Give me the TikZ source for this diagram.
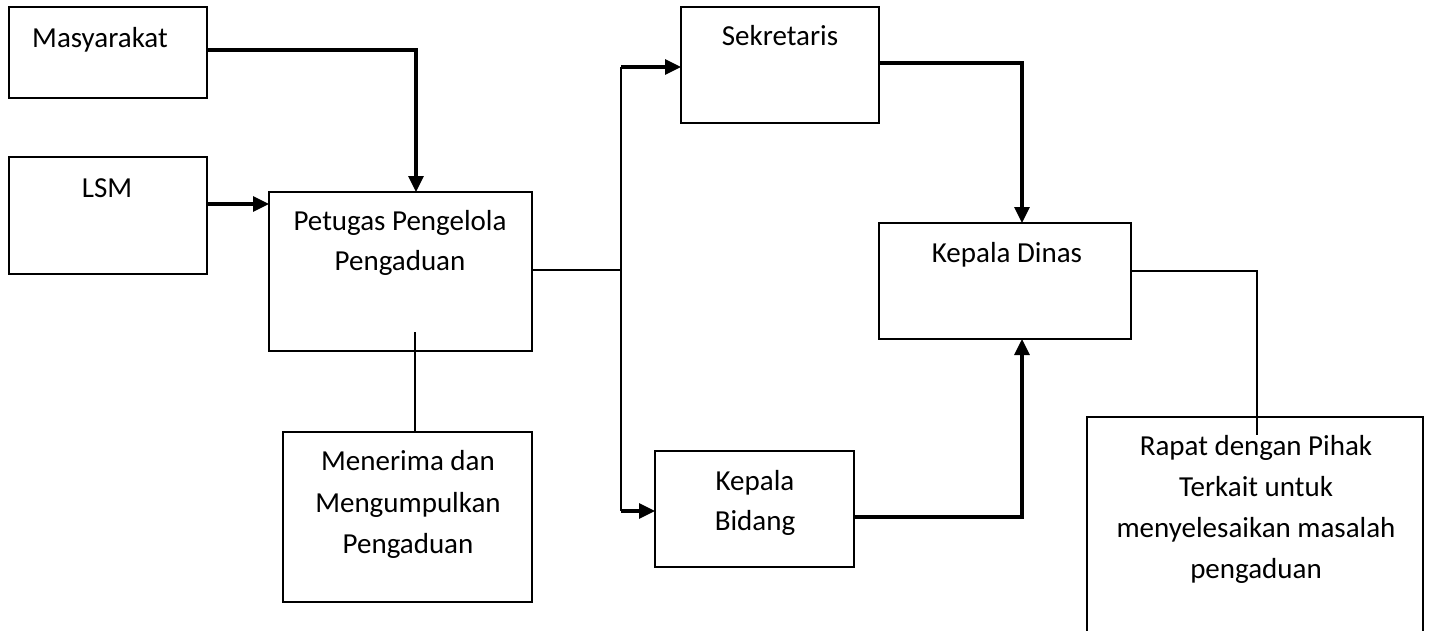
\documentclass[tikz,border=0pt]{standalone}
\usepackage{fontspec}
\setmainfont{Carlito}
\usetikzlibrary{arrows.meta}
\tikzset{
  box/.style={draw=black, line width=2pt, rectangle, inner sep=0pt, outer sep=0pt, anchor=north west},
  txt/.style={inner sep=0pt, outer sep=0pt, anchor=base, font=\fontsize{29pt}{41pt}\selectfont},
  thinline/.style={draw=black, line width=2pt},
  arr/.style={draw=black, line width=3.2pt, -{Triangle[length=16pt,width=15pt]}},
  boldline/.style={draw=black, line width=3.2pt},
}
\begin{document}
\begin{tikzpicture}[x=1pt,y=-1pt]
\clip (0,0) rectangle (1431,630);
\fill[white] (0,0) rectangle (1431,630);
% boxes
\node[box, minimum width=198pt, minimum height=91pt] (masy) at (9,7) {};
\node[box, minimum width=198pt, minimum height=117pt] (lsm) at (9,157) {};
\node[box, minimum width=263pt, minimum height=159pt] (pet) at (269,192) {};
\node[box, minimum width=249pt, minimum height=170pt] (men) at (283,432) {};
\node[box, minimum width=198pt, minimum height=116pt] (sek) at (681,7) {};
\node[box, minimum width=252pt, minimum height=116pt] (kd) at (879,223) {};
\node[box, minimum width=199pt, minimum height=116pt] (kb) at (655,451) {};
\node[box, minimum width=336pt, minimum height=260pt] (rap) at (1087,417) {};
% texts
\node[txt] (tmasy) at (100,47) {Masyarakat};
\node[txt] (tlsm) at (107,197) {LSM};
\node[txt] (tpet1) at (400,230) {Petugas Pengelola};
\node[txt] (tpet2) at (400,270) {Pengaduan};
\node[txt] (tmen1) at (408,470) {Menerima dan};
\node[txt] (tmen2) at (408,512) {Mengumpulkan};
\node[txt] (tmen3) at (408,553) {Pengaduan};
\node[txt] (tsek) at (780,45) {Sekretaris};
\node[txt] (tkd) at (1007,262) {Kepala Dinas};
\node[txt] (tkb1) at (755,490) {Kepala};
\node[txt] (tkb2) at (755,530) {Bidang};
\node[txt] (trap1) at (1256,455) {Rapat dengan Pihak};
\node[txt] (trap2) at (1256,496) {Terkait untuk};
\node[txt] (trap3) at (1256,537) {menyelesaikan masalah};
\node[txt] (trap4) at (1256,578) {pengaduan};
% helper coordinates
\coordinate (c1) at (416,50);
\coordinate (c2) at (0,204);
\coordinate (split) at (621,270);
\coordinate (splitTop) at (621,67);
\coordinate (splitBot) at (621,511);
\coordinate (c7) at (415,332);
\coordinate (c8) at (1022,63);
\coordinate (c9) at (1022,517);
\coordinate (c10) at (1257,271);
\coordinate (c10b) at (1257,435);
% connectors
\draw[arr] (masy.east |- c1) -- (c1) -- (pet.north -| c1);
\draw[arr] (lsm.east |- c2) -- (pet.west |- c2);
\draw[thinline] (pet.east |- split) -- (split);
\draw[thinline] (splitTop) -- (splitBot);
\draw[arr] (splitTop) -- (sek.west |- splitTop);
\draw[arr] (splitBot) -- (kb.west |- splitBot);
\draw[thinline] (c7) -- (men.north -| c7);
\draw[arr] (sek.east |- c8) -- (c8) -- (kd.north -| c8);
\draw[arr] (kb.east |- c9) -- (c9) -- (kd.south -| c9);
\draw[thinline] (kd.east |- c10) -- (c10) -- (c10b);
\end{tikzpicture}
\end{document}
